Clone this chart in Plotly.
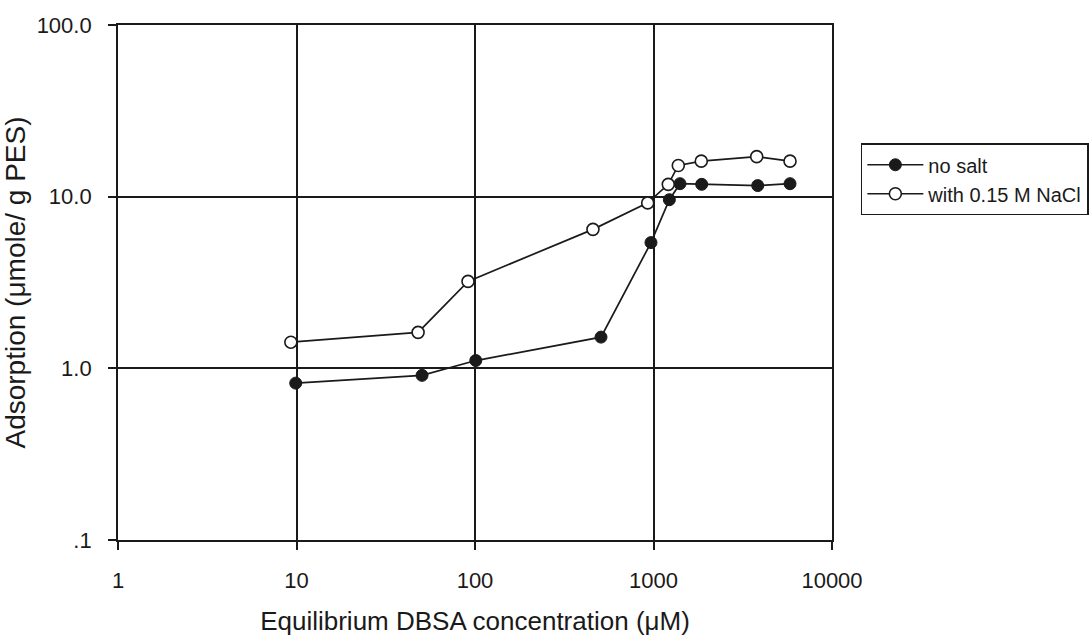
import plotly.graph_objects as go

x_nosalt = [9.9, 50.5, 101, 508, 968, 1227, 1407, 1862, 3836, 5819]
y_nosalt = [0.82, 0.91, 1.11, 1.52, 5.4, 9.6, 11.9, 11.8, 11.6, 11.9]

x_nacl = [9.3, 48, 91.4, 458, 928, 1210, 1377, 1852, 3786, 5819]
y_nacl = [1.42, 1.62, 3.21, 6.45, 9.2, 11.8, 15.2, 16.1, 17.1, 16.1]

x_tickvals = [1, 10, 100, 1000, 10000]
x_ticktext = ["1", "10", "100", "1000", "10000"]
y_tickvals = [0.1, 1, 10, 100]
y_ticktext = [".1", "1.0", "10.0", "100.0"]

FONT = "Liberation Sans, Arial"
INK = "#1a1a1a"

fig = go.Figure()
fig.add_trace(go.Scatter(
    x=x_nosalt, y=y_nosalt, mode="lines+markers", name="no salt",
    line=dict(color=INK, width=1.7),
    marker=dict(symbol="circle", size=12, color=INK, line=dict(color=INK, width=1)),
))
fig.add_trace(go.Scatter(
    x=x_nacl, y=y_nacl, mode="lines+markers", name="with 0.15 M NaCl",
    line=dict(color=INK, width=1.7),
    marker=dict(symbol="circle", size=12, color="white", line=dict(color=INK, width=1.6)),
))

axis_common = dict(
    showline=True, linecolor=INK, linewidth=1.8, mirror=True,
    showgrid=True, gridcolor=INK, gridwidth=1.8,
    ticks="outside", ticklen=8, tickcolor=INK, tickwidth=1.6,
    tickfont=dict(family=FONT, size=22, color=INK),
    zeroline=False, automargin=False,
)

fig.update_xaxes(
    type="log", range=[0, 4], tickvals=x_tickvals, ticktext=x_ticktext,
    ticklabelstandoff=12,
    title=dict(text="Equilibrium DBSA concentration (μM)",
               font=dict(family=FONT, size=26, color=INK), standoff=22),
    **axis_common,
)
fig.update_yaxes(
    type="log", range=[-1, 2], tickvals=y_tickvals, ticktext=y_ticktext,
    ticklabelstandoff=12,
    title=dict(text="Adsorption (μmole/ g PES)",
               font=dict(family=FONT, size=28, color=INK), standoff=4),
    **axis_common,
)

fig.update_layout(
    width=1091, height=636,
    margin=dict(l=118, r=259, t=25, b=96, autoexpand=False),
    paper_bgcolor="white", plot_bgcolor="white",
    showlegend=True,
    legend=dict(
        x=1.04, y=0.77, xanchor="left", yanchor="top",
        bordercolor=INK, borderwidth=1.8, bgcolor="white",
        font=dict(family=FONT, size=20, color=INK),
        tracegroupgap=0, itemwidth=56,
    ),
)

fig.write_html("out.html")
